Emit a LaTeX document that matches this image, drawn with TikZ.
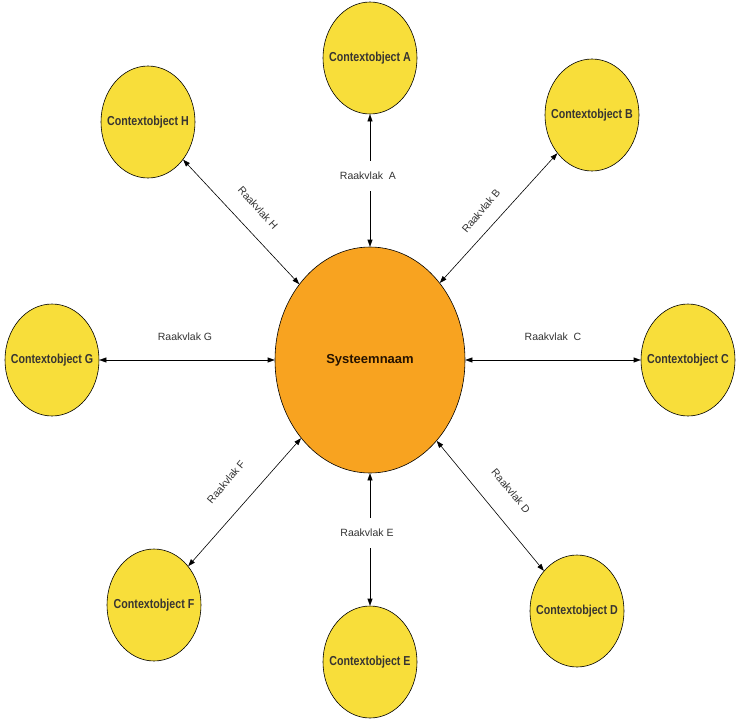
\documentclass[tikz,border=0pt]{standalone}
\usepackage{fontspec}
\setmainfont{Liberation Sans}
\newfontfamily\ctxfont[FakeStretch=0.82]{Liberation Sans}
\usetikzlibrary{shapes.geometric,arrows.meta}
\definecolor{ctxyellow}{RGB}{248,222,58}
\definecolor{sysorange}{RGB}{248,163,32}
\newcommand{\zerowd}[1]{\makebox[0pt]{#1}}
\begin{document}
\begin{tikzpicture}[x=1pt,y=-1pt,
  ctx/.style={ellipse,draw=black,line width=0.6pt,fill=ctxyellow,minimum width=94pt,minimum height=112pt,inner sep=0pt,
    font=\ctxfont\bfseries\fontsize{13}{15}\selectfont,text=black!90!yellow},
  sysnode/.style={ellipse,draw=black,line width=0.6pt,fill=sysorange,minimum width=190pt,minimum height=226pt,inner sep=0pt,
    font=\bfseries\fontsize{13}{15}\selectfont,text=black!85!orange},
  link/.style={{Triangle[length=7pt,width=5pt]}-{Triangle[length=7pt,width=5pt]},line width=0.6pt,black},
  lbl/.style={font=\fontsize{10.5}{12}\selectfont,text=black!80,inner sep=1pt},
  lblgap/.style={lbl,fill=white,minimum height=30pt,inner xsep=2pt}]
\useasboundingbox (0,0) rectangle (737,721);
\fill[white] (0,0) rectangle (737,721);
% nodes
\node[sysnode] (sys) at (370,360) {\zerowd{Systeemnaam}};
\node[ctx] (A) at (370,58) {\zerowd{Contextobject A}};
\node[ctx] (B) at (592,115) {\zerowd{Contextobject B}};
\node[ctx] (C) at (688,360) {\zerowd{Contextobject C}};
\node[ctx] (D) at (577,611) {\zerowd{Contextobject D}};
\node[ctx] (E) at (370,662) {\zerowd{Contextobject E}};
\node[ctx] (F) at (154,605) {\zerowd{Contextobject F}};
\node[ctx] (G) at (52,360) {\zerowd{Contextobject G}};
\node[ctx] (H) at (148,122) {\zerowd{Contextobject H}};
% connectors
\draw[link] (A) -- (sys);
\draw[link] (B) -- (sys);
\draw[link] (C) -- (sys);
\draw[link] (D) -- (sys);
\draw[link] (E) -- (sys);
\draw[link] (F) -- (sys);
\draw[link] (G) -- (sys);
\draw[link] (H) -- (sys);
% labels
\node[lblgap] (la) at (368,176) {Raakvlak\ \ A};
\node[lblgap] (le) at (367,533) {Raakvlak E};
\node[lbl] (lc) at (553,337) {Raakvlak\ \ C};
\node[lbl] (lg) at (185,337) {Raakvlak G};
\node[lbl,rotate=50] (lb) at (481,211) {Raakvlak B};
\node[lbl,rotate=50] (lf) at (226,482) {Raakvlak F};
\node[lbl,rotate=-50] (ld) at (511,491) {Raakvlak D};
\node[lbl,rotate=-48] (lh) at (258,208) {Raakvlak H};
\end{tikzpicture}
\end{document}
